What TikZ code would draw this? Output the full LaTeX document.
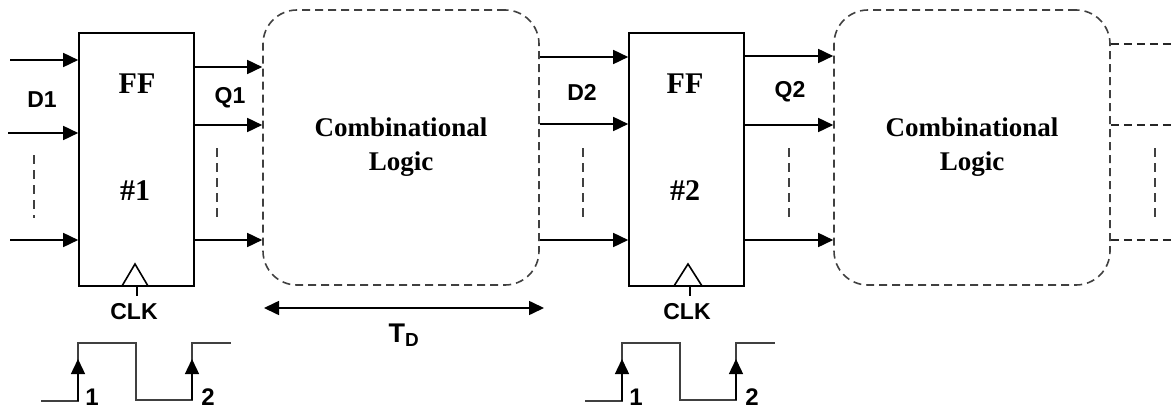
\documentclass[tikz,border=0pt]{standalone}
\usepackage{fontspec}
\setmainfont{Liberation Serif}
\setsansfont{Liberation Sans}
\usetikzlibrary{positioning,calc,arrows.meta}

\begin{document}
\begin{tikzpicture}[x=1pt, y=-1pt, line width=1.6pt, >={Triangle[length=15pt,width=14pt]},
 every edge/.append style={->},
 ff/.style = {rectangle, draw, minimum width=115pt, minimum height=253pt, inner sep=0pt},
 logic/.style = {rectangle, draw=black!75, dashed, dash pattern=on 8pt off 5pt, rounded corners=34pt, minimum width=276pt, minimum height=275pt, inner sep=0pt, align=center, font=\bfseries\fontsize{27}{34}\selectfont},
 ffname/.style = {font=\bfseries\fontsize{30}{34}\selectfont},
 lbl/.style = {font=\sffamily\bfseries\fontsize{23}{26}\selectfont},
 num/.style = {inner sep=0pt, font=\sffamily\bfseries\fontsize{24}{26}\selectfont},
 dots/.style = {draw=black!75, line width=1.2pt, dash pattern=on 9pt off 6pt},
 stub/.style = {draw=black!85, dash pattern=on 8pt off 5pt},
 wave/.style = {draw=black!75, line width=1.4pt}]
\useasboundingbox (0,0) rectangle (1174,409);

% first stage
\node[ff] (ff1) at (136.5,159.5) {};
\node[logic] (logic1) at (401,147.5) {Combinational\\Logic};
\node[ffname] (ffa) at (137,84) {FF};
\node[ffname] (ffb) at (135,191) {\#1};
\node[lbl] (d1) at (42,100) {D1};
\node[lbl] (q1) at (230,98) {Q1};
\node[lbl] (clk1) at (134,312) {CLK};
\coordinate (ina) at (10,60);
\coordinate (inb) at (8,133);
\coordinate (inc) at (10,240);
\coordinate (outa) at (194,67);
\coordinate (outb) at (194,125);
\coordinate (outc) at (194,240);

\path
 (ina) edge (ina -| ff1.west)
 (inb) edge (inb -| ff1.west)
 (inc) edge (inc -| ff1.west)
 (outa) edge (outa -| logic1.west)
 (outb) edge (outb -| logic1.west)
 (outc) edge (outc -| logic1.west);
\draw[dots] (34,155) -- (34,218);
\draw[dots] (217,148) -- (217,218);
\draw (122,286) -- (135,264) -- (148,286);
\draw (137,286) -- (137,296);

\begin{scope}[shift = {(550,0)}]
\node[ff] (ff2) at (136.5,159.5) {};
\node[ffname] (ffc) at (135,84) {FF};
\node[ffname] (ffd) at (135,191) {\#2};
\node[lbl] (d2) at (32,92) {D2};
\node[lbl] (q2) at (240,92) {Q2};
\node[lbl] (clk2) at (137,312) {CLK};
\coordinate (outd) at (194,56);
\coordinate (oute) at (194,125);
\coordinate (outf) at (194,240);
\draw (124,286) -- (138,264) -- (152,286);
\draw (140,286) -- (140,296);
\end{scope}

% second stage
\node[logic] (logic2) at (972,147.5) {Combinational\\Logic};
\coordinate (ind) at (logic1.east |- 0,57);
\coordinate (ine) at (logic1.east |- 0,124);
\coordinate (inf) at (logic1.east |- 0,240);

\path
 (ind) edge (ind -| ff2.west)
 (ine) edge (ine -| ff2.west)
 (inf) edge (inf -| ff2.west)
 (outd) edge (outd -| logic2.west)
 (oute) edge (oute -| logic2.west)
 (outf) edge (outf -| logic2.west);
\draw[dots] (583,148) -- (583,218);
\draw[dots] (789,148) -- (789,218);
\draw[dots] (1155,148) -- (1155,218);

% cut-off stage at the right
\coordinate (stuba) at (1174,44);
\coordinate (stubb) at (1174,125);
\coordinate (stubc) at (1174,240);
\draw[stub] (logic2.east |- stuba) -- (stuba);
\draw[stub] (logic2.east |- stubb) -- (stubb);
\draw[stub] (logic2.east |- stubc) -- (stubc);

% delay arrow
\coordinate (tdl) at (264,308);
\coordinate (tdr) at (544,308);
\path (tdl) edge[<->] (tdr);
\node[font=\sffamily\bfseries\fontsize{27}{30}\selectfont] (td) at (404,335) {T\textsubscript{D}};

% clock waves
\draw[wave] (41,401) -- (78,401) -- (78,343) -- (136,343) -- (136,400) -- (192,400) -- (192,343) -- (231,343);
\coordinate (wa) at (78,401);
\coordinate (wb) at (78,359);
\coordinate (wc) at (192,400);
\coordinate (wd) at (192,359);
\path (wa) edge[wave, draw=black] (wb) (wc) edge[wave, draw=black] (wd);
\node[num] (one1) at (92,397) {1};
\node[num] (two1) at (208,397) {2};

\begin{scope}[shift = {(544,0)}]
\draw[wave] (41,401) -- (78,401) -- (78,343) -- (136,343) -- (136,400) -- (192,400) -- (192,343) -- (231,343);
\coordinate (we) at (78,401);
\coordinate (wf) at (78,359);
\coordinate (wg) at (192,400);
\coordinate (wh) at (192,359);
\path (we) edge[wave, draw=black] (wf) (wg) edge[wave, draw=black] (wh);
\node[num] (one2) at (92,397) {1};
\node[num] (two2) at (208,397) {2};
\end{scope}
\end{tikzpicture}
\end{document}
